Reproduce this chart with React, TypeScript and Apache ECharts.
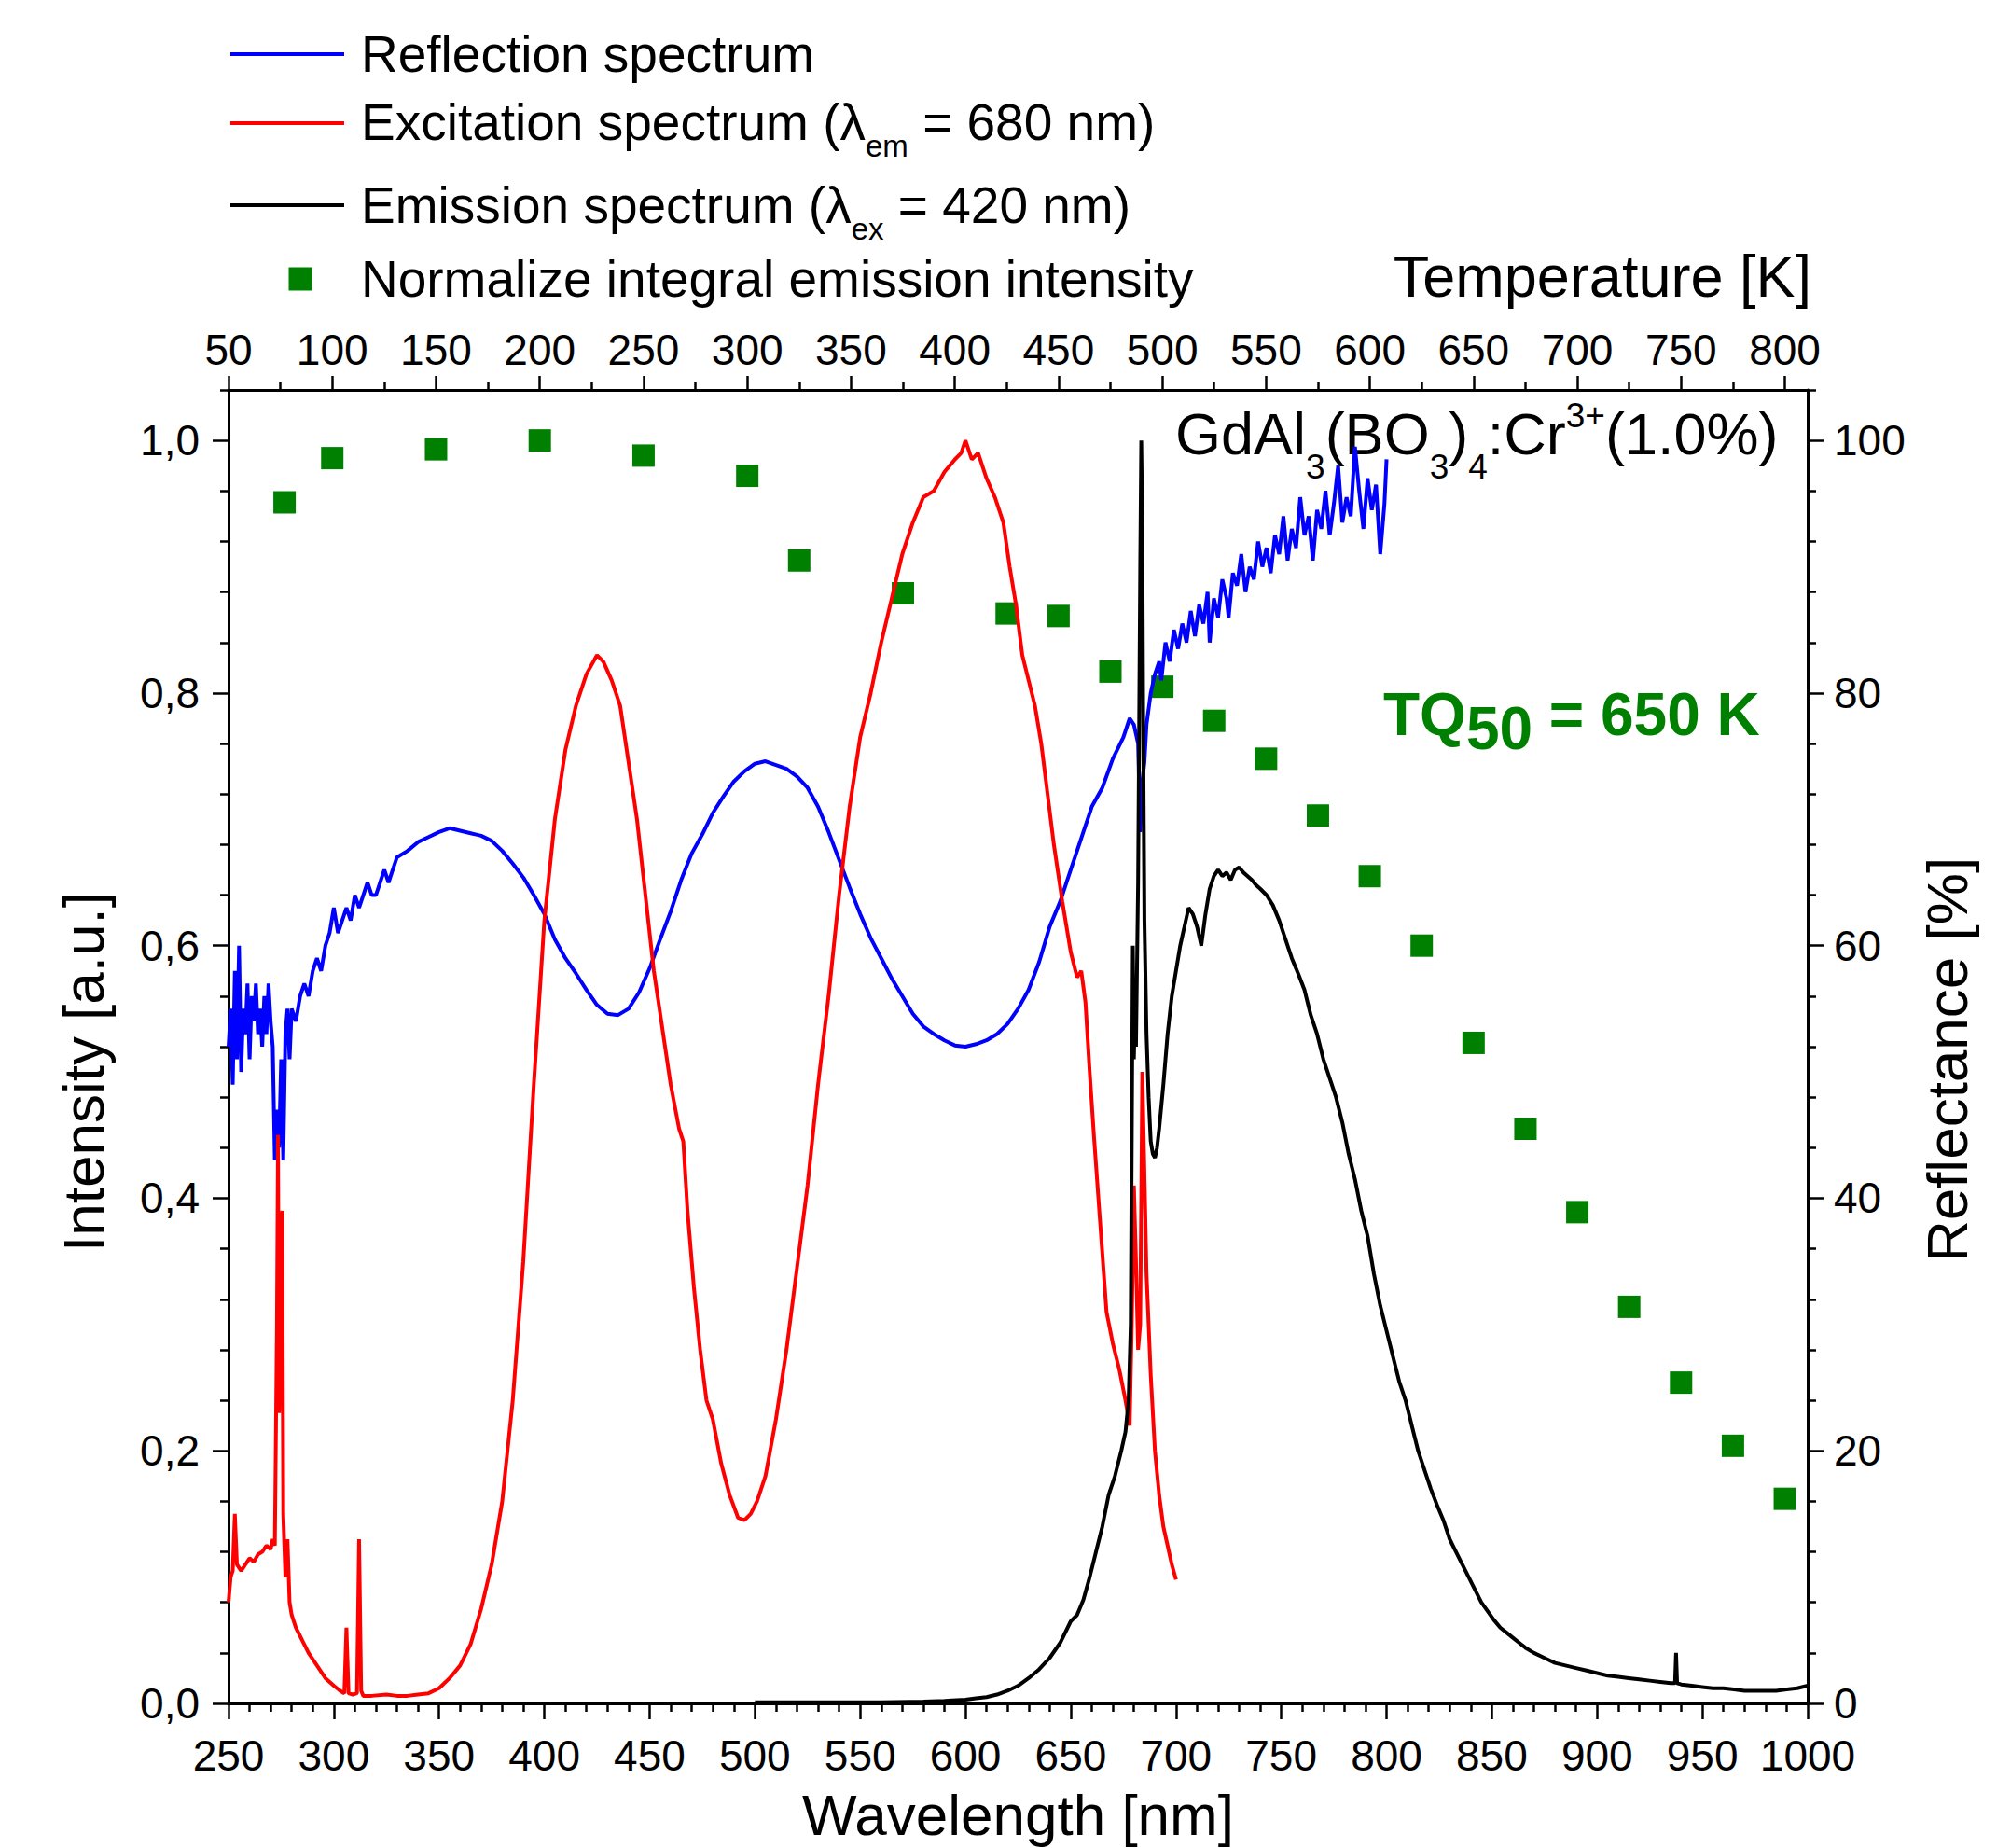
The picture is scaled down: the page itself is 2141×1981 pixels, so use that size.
import React, { useEffect, useRef } from 'react';
import * as echarts from 'echarts';

// ---------- data ----------
const reflWl = [250, 251, 252, 253, 254, 255, 256, 257, 258, 259, 260, 261, 262, 263, 264, 265, 266, 267, 268, 269, 270, 271, 272, 273, 274, 275, 276, 277, 278, 279, 280, 282, 284, 286, 288, 290, 292, 294, 296, 298, 300, 302, 304, 306, 308, 310, 312, 314, 316, 318, 320, 322, 324, 326, 328, 330, 335, 340, 345, 350, 355, 360, 365, 370, 375, 380, 385, 390, 395, 400, 405, 410, 415, 420, 425, 430, 435, 440, 445, 450, 455, 460, 465, 470, 475, 480, 485, 490, 495, 500, 505, 510, 515, 520, 525, 530, 535, 540, 545, 550, 555, 560, 565, 570, 575, 580, 585, 590, 595, 600, 605, 610, 615, 620, 625, 630, 635, 640, 645, 650, 655, 660, 665, 670, 675, 678, 680, 682, 683, 684, 685, 686, 688, 690, 692, 693, 695, 697, 699, 701, 703, 705, 707, 709, 711, 713, 715, 716, 718, 720, 722, 724, 725, 727, 729, 731, 733, 735, 737, 739, 741, 743, 745, 747, 749, 751, 753, 755, 757, 759, 761, 763, 765, 767, 769, 771, 773, 775, 777, 779, 781, 783, 785, 787, 789, 791, 793, 795, 797, 799, 800];
const reflPct = [52, 55, 49, 58, 51, 60, 50, 55, 53, 57, 51, 56, 54, 57, 53, 55, 52, 56, 53, 57, 54, 52, 43, 47, 44, 51, 43, 53, 55, 51, 55, 54, 56, 57, 56, 58, 59, 58, 60, 61, 63, 61, 62, 63, 62, 64, 63, 64, 65, 64, 64, 65, 66, 65, 66, 67, 67.5, 68.2, 68.6, 69, 69.3, 69.1, 68.9, 68.7, 68.3, 67.5, 66.5, 65.4, 64, 62.5, 60.5, 59, 57.8, 56.5, 55.3, 54.6, 54.5, 55, 56.3, 58.2, 60.5, 62.7, 65.2, 67.3, 68.8, 70.5, 71.8, 73, 73.8, 74.4, 74.6, 74.3, 74, 73.4, 72.5, 71, 69, 66.8, 64.6, 62.5, 60.6, 59, 57.4, 56, 54.6, 53.6, 53, 52.5, 52.1, 52, 52.2, 52.5, 53, 53.8, 55, 56.5, 58.7, 61.5, 63.5, 66, 68.5, 71, 72.5, 74.8, 76.5, 78, 77.5, 76, 69, 73, 74.5, 77.5, 80, 81.5, 82.5, 81, 84, 82.5, 85, 83.5, 85.5, 84, 86.5, 84.5, 87, 85.5, 88, 84, 87.5, 86, 89, 87.5, 86, 89.5, 88.5, 91, 88, 90, 89, 92, 90, 91.5, 89.5, 92.5, 91, 94, 90.5, 93, 91.5, 95.5, 92.5, 94, 90.5, 94.5, 93, 96, 92.5, 95, 98, 93.5, 95.5, 94, 99.5, 96, 93, 97, 94.5, 96.5, 91, 95, 98.5];

const excWl = [250, 251, 252, 253, 254, 256, 258, 260, 262, 264, 266, 268, 270, 271, 272, 273, 273.5, 274, 275, 275.5, 276, 277, 278, 279, 280, 282, 285, 288, 292, 296, 300, 303, 305, 306, 307, 309, 311, 312, 313, 314, 318, 325, 330, 335, 340, 345, 350, 355, 360, 365, 370, 375, 380, 385, 390, 395, 400, 405, 410, 415, 420, 425, 428, 432, 436, 440, 444, 448, 452, 456, 460, 464, 466, 468, 471, 474, 477, 480, 484, 488, 492, 495, 498, 501, 505, 510, 515, 520, 525, 530, 535, 540, 545, 550, 555, 560, 565, 570, 575, 580, 585, 590, 595, 598, 600, 603, 606, 610, 614, 618, 621, 624, 627, 630, 633, 636, 639, 642, 646, 650, 653, 655, 657, 659, 661, 664, 667, 670, 673, 676, 678, 679, 680, 681, 682, 683, 684, 685, 686, 688, 690, 692, 694, 696, 698, 700];
const excInt = [0.08, 0.1, 0.105, 0.15, 0.11, 0.105, 0.11, 0.115, 0.112, 0.118, 0.12, 0.125, 0.122, 0.13, 0.125, 0.3, 0.45, 0.23, 0.38, 0.39, 0.15, 0.1, 0.13, 0.08, 0.07, 0.06, 0.05, 0.04, 0.03, 0.02, 0.014, 0.01, 0.008, 0.06, 0.008, 0.007, 0.008, 0.13, 0.01, 0.006, 0.006, 0.007, 0.006, 0.006, 0.007, 0.008, 0.012, 0.02, 0.03, 0.047, 0.075, 0.11, 0.16, 0.24, 0.35, 0.49, 0.62, 0.7, 0.755, 0.79, 0.815, 0.83, 0.825, 0.81, 0.79, 0.745, 0.7, 0.64, 0.58, 0.535, 0.49, 0.455, 0.445, 0.39, 0.33, 0.28, 0.24, 0.225, 0.19, 0.165, 0.147, 0.145, 0.15, 0.16, 0.18, 0.225, 0.28, 0.345, 0.41, 0.49, 0.56, 0.64, 0.71, 0.765, 0.8, 0.84, 0.875, 0.91, 0.935, 0.955, 0.96, 0.975, 0.985, 0.99, 1.0, 0.985, 0.99, 0.97, 0.955, 0.935, 0.9, 0.87, 0.83, 0.81, 0.79, 0.76, 0.72, 0.68, 0.635, 0.595, 0.575, 0.58, 0.555, 0.5, 0.45, 0.38, 0.31, 0.285, 0.265, 0.24, 0.22, 0.3, 0.41, 0.35, 0.28, 0.3, 0.5, 0.42, 0.34, 0.26, 0.2, 0.165, 0.14, 0.125, 0.11, 0.098];

const emiWl = [500, 520, 540, 560, 580, 590, 600, 605, 610, 615, 620, 625, 630, 635, 640, 645, 650, 653, 656, 659, 662, 665, 668, 671, 674, 676, 677.5, 678.5, 679, 679.5, 680, 680.5, 681, 682, 683, 683.5, 684, 684.5, 685, 686, 687, 688, 689, 690, 691, 692, 694, 696, 698, 700, 702, 704, 706, 708, 710, 712, 714, 716, 718, 720, 722, 724, 726, 728, 730, 732, 734, 736, 738, 740, 743, 746, 749, 752, 755, 758, 761, 764, 767, 770, 773, 776, 779, 782, 785, 788, 791, 794, 797, 800, 803, 806, 809, 812, 815, 818, 821, 824, 827, 830, 833, 836, 839, 842, 845, 848, 851, 854, 857, 860, 863, 866, 870, 875, 880, 885, 890, 895, 900, 905, 910, 915, 920, 925, 930, 935, 937, 937.5, 938, 940, 945, 950, 955, 960, 965, 970, 975, 980, 985, 990, 995, 1000];
const emiInt = [0.001, 0.001, 0.001, 0.001, 0.0015, 0.002, 0.003, 0.004, 0.005, 0.007, 0.01, 0.014, 0.02, 0.027, 0.036, 0.048, 0.065, 0.07, 0.082, 0.1, 0.12, 0.14, 0.165, 0.18, 0.2, 0.215, 0.24, 0.3, 0.45, 0.6, 0.51, 0.55, 0.52, 0.65, 0.9, 1.0, 0.93, 0.75, 0.62, 0.53, 0.48, 0.445, 0.435, 0.432, 0.44, 0.455, 0.49, 0.53, 0.56, 0.58, 0.6, 0.615, 0.63, 0.625, 0.615, 0.6, 0.625, 0.645, 0.655, 0.66, 0.655, 0.658, 0.652, 0.66, 0.662, 0.658, 0.655, 0.652, 0.648, 0.645, 0.64, 0.632, 0.62, 0.605, 0.59, 0.578, 0.565, 0.545, 0.53, 0.51, 0.495, 0.48, 0.46, 0.435, 0.415, 0.39, 0.37, 0.34, 0.315, 0.295, 0.275, 0.255, 0.24, 0.22, 0.2, 0.185, 0.17, 0.157, 0.145, 0.13, 0.12, 0.11, 0.1, 0.09, 0.08, 0.073, 0.066, 0.06, 0.056, 0.052, 0.048, 0.044, 0.04, 0.036, 0.032, 0.03, 0.028, 0.026, 0.024, 0.022, 0.021, 0.02, 0.019, 0.018, 0.017, 0.016, 0.016, 0.04, 0.016, 0.015, 0.014, 0.013, 0.012, 0.012, 0.011, 0.01, 0.01, 0.01, 0.01, 0.011, 0.012, 0.014];

const tempK = [77, 100, 150, 200, 250, 300, 325, 375, 425, 450, 475, 500, 525, 550, 575, 600, 625, 650, 675, 700, 725, 750, 775, 800];
const tempInt = [0.951, 0.986, 0.993, 1.0, 0.988, 0.972, 0.905, 0.879, 0.863, 0.861, 0.817, 0.805, 0.778, 0.748, 0.703, 0.655, 0.6, 0.523, 0.455, 0.389, 0.314, 0.254, 0.204, 0.162];

const intensityTicks = [0, 0.2, 0.4, 0.6, 0.8, 1.0];
const reflectTicks = [0, 20, 40, 60, 80, 100];
const tempTicks = [50, 100, 150, 200, 250, 300, 350, 400, 450, 500, 550, 600, 650, 700, 750, 800];
const tempMinorTicks = [75, 125, 175, 225, 275, 325, 375, 425, 475, 525, 575, 625, 675, 725, 775];
const intensityMinorTicks = [0.04, 0.08, 0.12, 0.16, 0.24, 0.28, 0.32, 0.36, 0.44, 0.48, 0.52, 0.56, 0.64, 0.68, 0.72, 0.76, 0.84, 0.88, 0.92, 0.96, 1.04];
const reflectMinorTicks = [4, 8, 12, 16, 24, 28, 32, 36, 44, 48, 52, 56, 64, 68, 72, 76, 84, 88, 92, 96, 104];

const seriesNames = ['Reflection spectrum', 'Excitation spectrum', 'Emission spectrum', 'Normalize integral emission intensity'];

// ---------- style ----------
const FONT = 'Liberation Sans, Arial, sans-serif';
const W = 2141;
const H = 1981;
const GRID = { left: 245, right: 203, top: 418, bottom: 155 };
const GREEN = '#008000';
const LINE_W = 4;

type Seg = { t: string; size: number; base: number };

let measureCtx: CanvasRenderingContext2D | null = null;
function textWidth(t: string, size: number, weight: string): number {
  if (!measureCtx) measureCtx = document.createElement('canvas').getContext('2d');
  if (!measureCtx) return t.length * size * 0.55;
  measureCtx.font = `${weight} ${size}px ${FONT}`;
  return measureCtx.measureText(t).width;
}

function segText(x: number, baseline: number, segs: Seg[], weight: string, color: string, alignRight = false): any[] {
  const out: any[] = [];
  let cx = x;
  if (alignRight) {
    let total = 0;
    for (const s of segs) total += textWidth(s.t, s.size, weight);
    cx = x - total;
  }
  for (const s of segs) {
    out.push({
      type: 'text',
      x: cx,
      y: baseline + s.base - 0.3465 * s.size,
      silent: true,
      style: {
        text: s.t,
        fill: color,
        fontFamily: FONT,
        fontSize: s.size,
        fontWeight: weight,
        align: 'left',
        verticalAlign: 'middle',
      },
    });
    cx += textWidth(s.t, s.size, weight);
  }
  return out;
}

function axisLineStyle() {
  return { show: true, onZero: false, lineStyle: { color: '#000', width: 3 } };
}
function tickStyle(length: number, customValues?: number[]) {
  const o: any = { show: true, length, lineStyle: { color: '#000', width: 2.5 } };
  if (customValues) o.customValues = customValues;
  return o;
}
function labelStyle(margin: number, extra: any = {}) {
  return { show: true, margin, color: '#000', fontSize: 46, fontFamily: FONT, ...extra };
}
function nameStyle(extra: any = {}) {
  return { color: '#000', fontSize: 62, fontFamily: FONT, ...extra };
}

export default function App() {
  const ref = useRef<HTMLDivElement>(null);

  useEffect(() => {
    if (!ref.current) return;
    const chart = echarts.init(ref.current, null, { renderer: 'svg' });

    const legendY = [58, 132, 220];
    const legendColors = ['#0000ff', '#ff0000', '#000000'];
    const graphics: any[] = [];
    legendY.forEach((y, i) => {
      graphics.push({
        type: 'line',
        silent: true,
        shape: { x1: 247, y1: y, x2: 369, y2: y },
        style: { stroke: legendColors[i], lineWidth: LINE_W },
      });
    });
    graphics.push({
      type: 'rect',
      silent: true,
      shape: { x: 309.5, y: 286.5, width: 25, height: 25 },
      style: { fill: GREEN },
    });
    graphics.push(...segText(387, 77, [{ t: seriesNames[0], size: 55, base: 0 }], 'normal', '#000'));
    graphics.push(
      ...segText(
        387,
        150,
        [
          { t: 'Excitation spectrum (λ', size: 55, base: 0 },
          { t: 'em', size: 33, base: 18 },
          { t: ' = 680 nm)', size: 55, base: 0 },
        ],
        'normal',
        '#000'
      )
    );
    graphics.push(
      ...segText(
        387,
        239,
        [
          { t: 'Emission spectrum (λ', size: 55, base: 0 },
          { t: 'ex', size: 33, base: 18 },
          { t: ' = 420 nm)', size: 55, base: 0 },
        ],
        'normal',
        '#000'
      )
    );
    graphics.push(...segText(387, 318, [{ t: seriesNames[3], size: 55, base: 0 }], 'normal', '#000'));

    // top axis title
    graphics.push(...segText(1942, 318, [{ t: 'Temperature [K]', size: 63, base: 0 }], 'normal', '#000', true));

    graphics.push(
      ...segText(
        1260,
        487,
        [
          { t: 'GdAl', size: 63, base: 0 },
          { t: '3', size: 37, base: 26 },
          { t: '(BO', size: 63, base: 0 },
          { t: '3', size: 37, base: 26 },
          { t: ')', size: 63, base: 0 },
          { t: '4', size: 37, base: 26 },
          { t: ':Cr', size: 63, base: 0 },
          { t: '3+', size: 37, base: -29 },
          { t: '(1.0%)', size: 63, base: 0 },
        ],
        'normal',
        '#000'
      )
    );
    graphics.push(
      ...segText(
        1483,
        788,
        [
          { t: 'TQ', size: 64, base: 0 },
          { t: '50', size: 64, base: 15 },
          { t: ' = 650 K', size: 64, base: 0 },
        ],
        'bold',
        GREEN
      )
    );

    const option: any = {
      animation: false,
      backgroundColor: '#ffffff',
      textStyle: { fontFamily: FONT },
      grid: [
        { ...GRID, containLabel: false, outerBoundsMode: 'none' },
        { ...GRID, containLabel: false, outerBoundsMode: 'none' },
      ],
      xAxis: [
        {
          type: 'value',
          gridIndex: 0,
          position: 'bottom',
          min: 250,
          max: 1000,
          interval: 50,
          axisLine: axisLineStyle(),
          axisTick: tickStyle(17),
          minorTick: { show: true, splitNumber: 5, length: 9, lineStyle: { color: '#000', width: 2.5 } },
          axisLabel: labelStyle(33, { formatter: (v: number) => String(v) }),
          splitLine: { show: false },
          minorSplitLine: { show: false },
          name: 'Wavelength [nm]',
          nameLocation: 'middle',
          nameGap: 88,
          nameTextStyle: nameStyle(),
        },
        {
          type: 'value',
          gridIndex: 0,
          position: 'top',
          min: 50,
          max: 811,
          interval: 50,
          axisLine: axisLineStyle(),
          axisTick: tickStyle(15, tempTicks),
          axisLabel: labelStyle(20, { customValues: tempTicks, formatter: (v: number) => String(v) }),
          splitLine: { show: false },
        },
        {
          type: 'value',
          gridIndex: 1,
          position: 'top',
          min: 50,
          max: 811,
          axisLine: { show: false, onZero: false },
          axisTick: tickStyle(8, tempMinorTicks),
          axisLabel: { show: false },
          splitLine: { show: false },
        },
      ],
      yAxis: [
        {
          type: 'value',
          gridIndex: 0,
          position: 'left',
          min: 0,
          max: 1.04,
          interval: 0.2,
          axisLine: axisLineStyle(),
          axisTick: tickStyle(17, intensityTicks),
          axisLabel: labelStyle(31, {
            customValues: intensityTicks,
            formatter: (v: number) => v.toFixed(1).replace('.', ','),
          }),
          splitLine: { show: false },
          name: 'Intensity [a.u.]',
          nameLocation: 'middle',
          nameRotate: 90,
          nameGap: 125,
          nameTextStyle: nameStyle({ padding: [0, 54, 0, 0] }),
        },
        {
          type: 'value',
          gridIndex: 0,
          position: 'right',
          min: 0,
          max: 104,
          interval: 20,
          axisLine: axisLineStyle(),
          axisTick: tickStyle(17, reflectTicks),
          axisLabel: labelStyle(28, { customValues: reflectTicks }),
          splitLine: { show: false },
          name: 'Reflectance [%]',
          nameLocation: 'middle',
          nameRotate: 90,
          nameGap: 118,
          nameTextStyle: nameStyle({ padding: [0, 28, 0, 0] }),
        },
        {
          type: 'value',
          gridIndex: 1,
          position: 'left',
          min: 0,
          max: 1.04,
          axisLine: { show: false, onZero: false },
          axisTick: tickStyle(9, intensityMinorTicks),
          axisLabel: { show: false },
          splitLine: { show: false },
        },
        {
          type: 'value',
          gridIndex: 1,
          position: 'right',
          min: 0,
          max: 104,
          axisLine: { show: false, onZero: false },
          axisTick: tickStyle(9, reflectMinorTicks),
          axisLabel: { show: false },
          splitLine: { show: false },
        },
      ],
      graphic: graphics,
      series: [
        {
          name: seriesNames[0],
          type: 'line',
          xAxisIndex: 0,
          yAxisIndex: 1,
          data: reflWl.map((w, i) => [w, reflPct[i]]),
          showSymbol: false,
          symbol: 'none',
          lineStyle: { color: '#0000ff', width: LINE_W },
          itemStyle: { color: '#0000ff' },
        },
        {
          name: seriesNames[1],
          type: 'line',
          xAxisIndex: 0,
          yAxisIndex: 0,
          data: excWl.map((w, i) => [w, excInt[i]]),
          showSymbol: false,
          symbol: 'none',
          lineStyle: { color: '#ff0000', width: LINE_W },
          itemStyle: { color: '#ff0000' },
        },
        {
          name: seriesNames[2],
          type: 'line',
          xAxisIndex: 0,
          yAxisIndex: 0,
          data: emiWl.map((w, i) => [w, emiInt[i]]),
          showSymbol: false,
          symbol: 'none',
          lineStyle: { color: '#000000', width: LINE_W },
          itemStyle: { color: '#000000' },
        },
        {
          name: seriesNames[3],
          type: 'scatter',
          xAxisIndex: 1,
          yAxisIndex: 0,
          data: tempK.map((t, i) => [t, tempInt[i]]),
          symbol: 'rect',
          symbolSize: 24,
          itemStyle: { color: GREEN, opacity: 1 },
        },
      ],
    };

    chart.setOption(option);
    return () => {
      chart.dispose();
    };
  }, []);

  return (
    <div
      ref={ref}
      style={{ position: 'fixed', left: 0, top: 0, width: W, height: H, background: '#fff' }}
    />
  );
}
